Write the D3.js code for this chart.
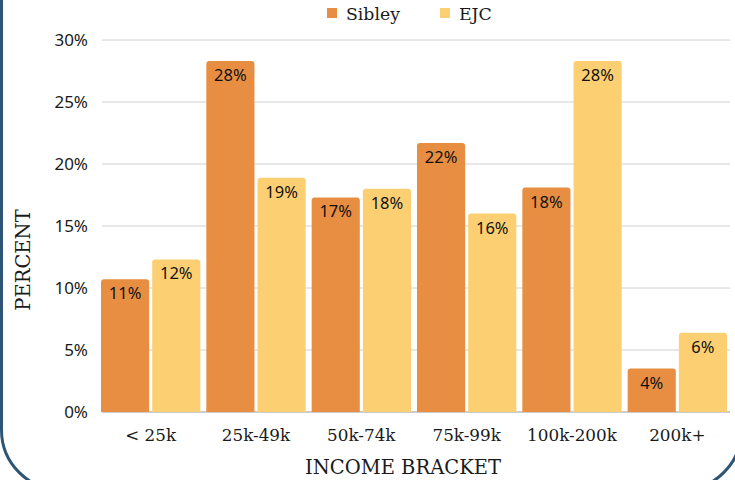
<!DOCTYPE html>
<html><head><meta charset="utf-8">
<script src="https://cdn.jsdelivr.net/npm/d3@7"></script>
<style>body{margin:0;background:#fff}svg{display:block}</style>
</head><body>
<script>
const categories = ["< 25k","25k-49k","50k-74k","75k-99k","100k-200k","200k+"];
const seriesNames = ["Sibley","EJC"];
const sibley = [10.7,28.3,17.3,21.7,18.1,3.5];
const ejc = [12.3,18.9,18.0,16.0,28.3,6.4];
const sibleyLabels = ["11%","28%","17%","22%","18%","4%"];
const ejcLabels = ["12%","19%","18%","16%","28%","6%"];
const yTicks = [0,5,10,15,20,25,30];
const colors = ["#E88E43","#FCD072"];

const W=735,H=480;
const svg=d3.select("body").append("svg").attr("width",W).attr("height",H);
const sans="'Noto Sans', sans-serif", serif="'DejaVu Serif', serif";

// frame
svg.append("rect").attr("x",1.5).attr("y",-60).attr("width",740).attr("height",550)
  .attr("rx",60).attr("fill","none").attr("stroke","#2D5575").attr("stroke-width",3);

const x=d3.scaleBand().domain(categories).range([98,730]).paddingInner(0).paddingOuter(0);
const y=d3.scaleLinear().domain([0,30]).range([412,40]);
const xi=d3.scaleBand().domain(seriesNames).range([3,x.bandwidth()-3]).paddingInner(0.06);

// grid
svg.append("g").selectAll("line").data(yTicks).join("line")
  .attr("x1",102).attr("x2",730).attr("y1",d=>y(d)).attr("y2",d=>y(d))
  .attr("stroke",d=>d===0?"#999":"#d0d0d0").attr("stroke-width",1);

svg.append("g").selectAll("text").data(yTicks).join("text")
  .attr("x",88).attr("y",d=>y(d)+6).attr("text-anchor","end")
  .attr("font-family",sans).attr("font-size",17).attr("fill","#1a1a1a").text(d=>d+"%");

const data=[];
categories.forEach((c,i)=>{
  data.push({c,s:"Sibley",v:sibley[i],l:sibleyLabels[i],col:colors[0]});
  data.push({c,s:"EJC",v:ejc[i],l:ejcLabels[i],col:colors[1]});
});
function topRounded(x0,y0,w,h,r){
  return `M${x0},${y0+h}V${y0+r}Q${x0},${y0} ${x0+r},${y0}H${x0+w-r}Q${x0+w},${y0} ${x0+w},${y0+r}V${y0+h}Z`;
}
const g=svg.append("g");
g.selectAll("path").data(data).join("path")
  .attr("d",d=>{const x0=x(d.c)+xi(d.s),w=xi.bandwidth(),y0=y(d.v);return topRounded(x0,y0,w,412-y0,3);})
  .attr("fill",d=>d.col);
g.selectAll("text").data(data).join("text")
  .attr("x",d=>x(d.c)+xi(d.s)+xi.bandwidth()/2).attr("y",d=>y(d.v)+20)
  .attr("text-anchor","middle").attr("font-family",sans).attr("font-size",16.5).attr("fill","#111")
  .text(d=>d.l);

// x labels
svg.append("g").selectAll("text").data(categories).join("text")
  .attr("x",d=>x(d)+x.bandwidth()/2).attr("y",441).attr("text-anchor","middle")
  .attr("font-family",serif).attr("font-size",16.8).attr("fill","#1a1a1a").text(d=>d);

svg.append("text").attr("x",403).attr("y",474).attr("text-anchor","middle")
  .attr("font-family",serif).attr("font-size",19.5).attr("fill","#1a1a1a").text("INCOME BRACKET");
svg.append("text").attr("transform","translate(30,260) rotate(-90)").attr("text-anchor","middle")
  .attr("font-family",serif).attr("font-size",19.5).attr("fill","#1a1a1a").text("PERCENT");

// legend
const leg=[{n:"Sibley",x:327},{n:"EJC",x:440}];
leg.forEach((l,i)=>{
  svg.append("rect").attr("x",l.x).attr("y",8).attr("width",10).attr("height",10).attr("fill",colors[i]);
  svg.append("text").attr("x",l.x+19).attr("y",20).attr("font-family",serif).attr("font-size",17.3)
    .attr("fill","#1a1a1a").text(l.n);
});
</script>
</body></html>
